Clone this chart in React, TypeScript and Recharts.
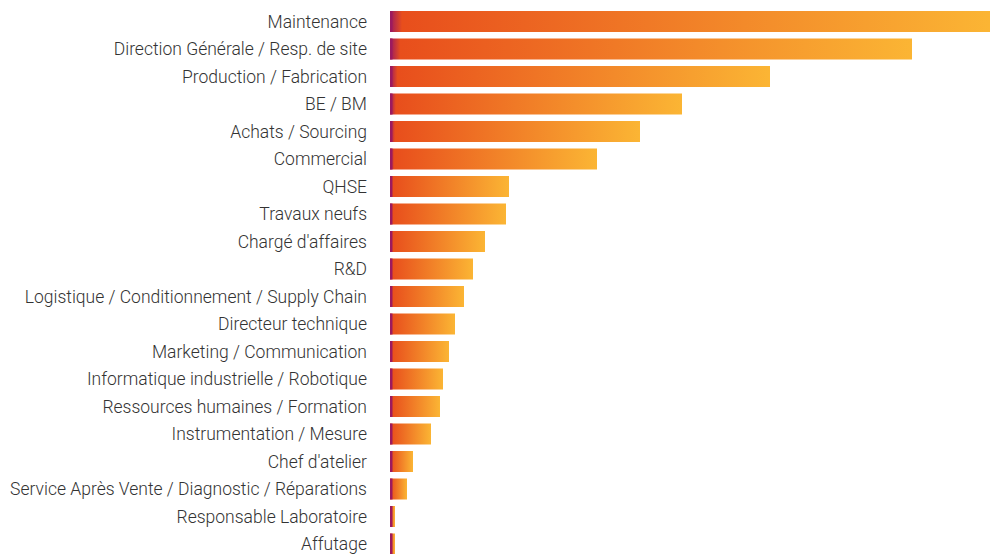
import React from "react";
import { BarChart, Bar, XAxis, YAxis } from "recharts";

const categories = [
  "Maintenance",
  "Direction Générale / Resp. de site",
  "Production / Fabrication",
  "BE / BM",
  "Achats / Sourcing",
  "Commercial",
  "QHSE",
  "Travaux neufs",
  "Chargé d'affaires",
  "R&D",
  "Logistique / Conditionnement / Supply Chain",
  "Directeur technique",
  "Marketing / Communication",
  "Informatique industrielle / Robotique",
  "Ressources humaines / Formation",
  "Instrumentation / Mesure",
  "Chef d'atelier",
  "Service Après Vente / Diagnostic / Réparations",
  "Responsable Laboratoire",
  "Affutage",
];

const values = [600, 522, 380, 292, 250, 207, 119, 116, 95, 83, 74, 65, 59, 53, 50, 41, 23, 17, 5, 5];

const data = categories.map((name, i) => ({ name, value: values[i] }));

const GradBar = (props: any) => {
  const { x, y, width, height } = props;
  if (width <= 0) return null;
  return (
    <g>
      <rect x={x} y={y} width={width} height={height} fill="url(#barGrad)" />
      <rect x={x} y={y} width={Math.min(2.5, width)} height={height} fill="#9c1a5f" />
    </g>
  );
};

export default function App() {
  return (
    <div style={{ position: "absolute", left: 0, top: 0, width: 998, height: 554, overflow: "hidden", background: "#fff" }}>
      <BarChart
        width={998}
        height={558}
        data={data}
        layout="vertical"
        margin={{ top: 8, right: 8, bottom: 0, left: 0 }}
      >
        <defs>
          <linearGradient id="barGrad" x1="0" y1="0" x2="1" y2="0">
            <stop offset="0" stopColor="#9c1a5f" />
            <stop offset="0.02" stopColor="#e84e1c" />
            <stop offset="1" stopColor="#fbb534" />
          </linearGradient>
        </defs>
        <XAxis type="number" hide domain={[0, "dataMax"]} />
        <YAxis
          type="category"
          dataKey="name"
          width={390}
          axisLine={false}
          tickLine={false}
          tickMargin={17}
          interval={0}
          tick={{ fill: "#333333", fontSize: 17.5, fontFamily: "Roboto", fontWeight: 300 }}
        />
        <Bar dataKey="value" barSize={21} shape={GradBar} isAnimationActive={false} />
      </BarChart>
    </div>
  );
}
